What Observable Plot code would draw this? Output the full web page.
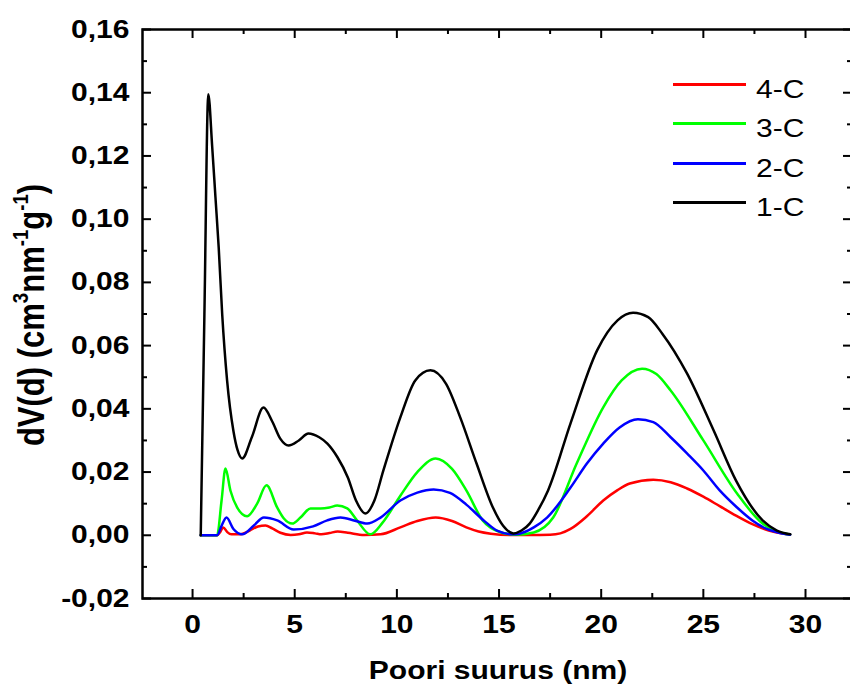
<!DOCTYPE html>
<html>
<head>
<meta charset="utf-8">
<script src="https://cdn.jsdelivr.net/npm/d3@7"></script>
<script src="https://cdn.jsdelivr.net/npm/@observablehq/plot@0.6"></script>
<style>
  html, body { margin: 0; padding: 0; background: #fff; overflow: hidden; }
  #wrap { position: relative; width: 850px; height: 686px; overflow: hidden; font-family: "Liberation Sans", Arial, sans-serif; color: #000; }
  #wrap svg { position: absolute; left: 0; top: 0; max-width: none !important; }
  .ylab { position: absolute; left: 31px; top: 315px; white-space: nowrap; font-weight: bold; font-size: 31px; line-height: 31px;
          transform: translate(-50%, -50%) scaleX(1.2) rotate(-90deg); }
  .ylab sup { font-size: 0.6em; line-height: 0; position: relative; top: -0.7em; vertical-align: baseline; }
  .xlab { position: absolute; left: 498px; top: 658px; white-space: nowrap; font-weight: bold; font-size: 25px; line-height: 25px;
          transform: translateX(-50%) scaleX(1.2); }
  .lg-line { position: absolute; left: 673px; width: 73px; height: 3px; }
  .lg-text { position: absolute; left: 756px; font-size: 25px; line-height: 25px; white-space: nowrap; transform-origin: 0 50%; transform: scaleX(1.2); }
</style>
</head>
<body>
<div id="wrap"></div>
<script>
// ---- data ----
const seriesNames = ["4-C", "3-C", "2-C", "1-C"];
const seriesColors = ["#ff0000", "#00ff00", "#0000ff", "#000000"];

const x1C = [0.4, 0.58, 0.77, 0.96, 1.12, 1.28, 1.45, 1.69, 2.0, 2.2, 2.43, 2.9, 3.47, 3.9, 4.3, 4.7, 5.2, 5.67, 6.2, 6.6, 7.1, 7.6, 8.0, 8.46, 8.9, 9.34, 10.17, 10.9, 11.64, 12.4, 13.1, 13.9, 14.7, 15.2, 15.7, 16.1, 16.5, 16.9, 17.4, 18.5, 19.8, 20.8, 21.56, 22.3, 23.0, 24.2, 25.5, 26.6, 27.9, 28.6, 29.25];
const y1C = [0, 0.07, 0.1395, 0.123, 0.107, 0.091, 0.070, 0.049, 0.033, 0.027, 0.0243, 0.031, 0.0404, 0.036, 0.0305, 0.0284, 0.030, 0.0322, 0.031, 0.029, 0.0246, 0.0183, 0.011, 0.0069, 0.011, 0.0205, 0.0373, 0.049, 0.0522, 0.048, 0.0373, 0.0227, 0.0088, 0.003, 0.0006, 0.0015, 0.0037, 0.0078, 0.0142, 0.0354, 0.0585, 0.068, 0.0704, 0.069, 0.0637, 0.0512, 0.0332, 0.0173, 0.0047, 0.0015, 0.0003];

const x2C = [0.4, 1.2, 1.42, 1.66, 2.0, 2.43, 3.0, 3.49, 4.14, 4.95, 5.9, 6.59, 7.24, 7.9, 8.55, 9.2, 10.17, 11.0, 11.8, 12.6, 13.4, 14.25, 14.9, 15.7, 16.0, 16.7, 17.35, 18.5, 19.3, 20.1, 20.9, 21.8, 22.55, 23.4, 24.2, 25.0, 25.8, 26.65, 27.4, 28.1, 28.7, 29.25];
const y2C = [0, 0, 0.003, 0.0056, 0.002, 0.0003, 0.0031, 0.0056, 0.0047, 0.0018, 0.0028, 0.0047, 0.0056, 0.0047, 0.0037, 0.0056, 0.011, 0.0135, 0.0145, 0.0134, 0.0097, 0.0047, 0.0015, 0.0003, 0.0005, 0.0025, 0.0056, 0.0151, 0.0227, 0.029, 0.0341, 0.0367, 0.0358, 0.031, 0.0259, 0.0205, 0.0142, 0.0088, 0.0047, 0.002, 0.0008, 0.0002];

const x3C = [0.4, 1.2, 1.42, 1.61, 1.86, 2.18, 2.67, 3.16, 3.62, 4.14, 4.47, 4.88, 5.28, 5.77, 6.26, 6.7, 7.08, 7.57, 8.05, 8.7, 9.3, 10.17, 11.0, 11.9, 12.7, 13.4, 14.2, 15.1, 15.8, 16.7, 17.65, 18.8, 20.1, 21.0, 22.0, 22.7, 23.4, 25.0, 26.65, 27.9, 28.6, 29.25];
const y3C = [0, 0, 0.011, 0.0211, 0.014, 0.0088, 0.006, 0.010, 0.0158, 0.0088, 0.0053, 0.0037, 0.0056, 0.0085, 0.0085, 0.0088, 0.0094, 0.0085, 0.0047, 0.0003, 0.004, 0.0125, 0.020, 0.0243, 0.021, 0.0142, 0.0047, 0.0009, 0.0002, 0.0009, 0.0056, 0.0227, 0.0405, 0.049, 0.0527, 0.051, 0.0458, 0.030, 0.0132, 0.0037, 0.0012, 0.0002];

const x4C = [0.4, 1.2, 1.35, 1.5, 1.7, 1.9, 2.3, 2.8, 3.2, 3.57, 3.9, 4.3, 4.8, 5.2, 5.6, 6.0, 6.3, 6.7, 7.1, 7.6, 8.4, 9.2, 10.17, 11.0, 11.9, 12.7, 13.4, 14.0, 14.6, 15.5, 16.5, 17.5, 18.0, 18.5, 19.3, 20.1, 20.8, 21.4, 22.55, 23.4, 24.2, 25.0, 25.8, 26.6, 27.4, 28.2, 28.8, 29.25];
const y4C = [0, 0, 0.001, 0.0025, 0.001, 0.0003, 0.0003, 0.0015, 0.0028, 0.0031, 0.0022, 0.0008, 0.0001, 0.0003, 0.0009, 0.0006, 0.0003, 0.0007, 0.0012, 0.0008, 0.0001, 0.0003, 0.0025, 0.0045, 0.0056, 0.0045, 0.0025, 0.0012, 0.0005, 0.0001, 0.0001, 0.0002, 0.0006, 0.002, 0.006, 0.011, 0.0143, 0.0164, 0.0176, 0.0168, 0.0148, 0.0122, 0.0092, 0.0062, 0.0035, 0.0015, 0.0006, 0.0002];

const xTicks = [0, 5, 10, 15, 20, 25, 30];
const xMinorTicks = [2.5, 7.5, 12.5, 17.5, 22.5, 27.5];
const yTicks = [-0.02, 0, 0.02, 0.04, 0.06, 0.08, 0.10, 0.12, 0.14, 0.16];
const yMinorTicks = [-0.01, 0.01, 0.03, 0.05, 0.07, 0.09, 0.11, 0.13, 0.15];

const xTitle = "Poori suurus (nm)";
const yTitleHTML = "dV(d) (cm<sup>3</sup>nm<sup>-1</sup>g<sup>-1</sup>)";

// ---- build table ----
const seriesX = {"4-C": x4C, "3-C": x3C, "2-C": x2C, "1-C": x1C};
const seriesY = {"4-C": y4C, "3-C": y3C, "2-C": y2C, "1-C": y1C};
const rows = [];
for (const name of seriesNames) {
  seriesX[name].forEach((xv, i) => rows.push({series: name, x: xv, y: seriesY[name][i]}));
}
const drawOrder = ["4-C", "3-C", "2-C", "1-C"];
const colorOf = Object.fromEntries(seriesNames.map((n, i) => [n, seriesColors[i]]));

// ---- layout ----
const W = 856, H = 686, mL = 142, mR = 4, mT = 29, mB = 88;
const plotW = W - mL - mR, plotH = H - mT - mB;
const major = 9, minor = 5;

const fmtY = d => d3.format(".2f")(d).replace(".", ",").replace("\u2212", "-");

const plot = Plot.plot({
  width: W, height: H,
  marginLeft: mL, marginRight: mR, marginTop: mT, marginBottom: mB,
  x: {domain: [-2.45, 32.3]},
  y: {domain: [-0.02, 0.16]},
  style: {fontFamily: "'Liberation Sans', Arial, sans-serif", fontSize: "25px", fontWeight: "bold", color: "#000", background: "transparent", overflow: "visible", maxWidth: "none"},
  marks: [
    ...drawOrder.map(name => Plot.line(rows.filter(r => r.series === name), {
      x: "x", y: "y", stroke: colorOf[name], strokeWidth: 2.5, curve: "monotone-x"
    })),
    Plot.frame({stroke: "#000", strokeWidth: 2.5}),
    Plot.tickX(xTicks, {x: d => d, insetTop: plotH - major, stroke: "#000", strokeWidth: 2}),
    Plot.tickX(xMinorTicks, {x: d => d, insetTop: plotH - minor, stroke: "#000", strokeWidth: 2}),
    Plot.tickX(xTicks, {x: d => d, insetBottom: plotH - major, stroke: "#000", strokeWidth: 2}),
    Plot.tickX(xMinorTicks, {x: d => d, insetBottom: plotH - minor, stroke: "#000", strokeWidth: 2}),
    Plot.tickY(yTicks, {y: d => d, insetRight: plotW - major, stroke: "#000", strokeWidth: 2}),
    Plot.tickY(yMinorTicks, {y: d => d, insetRight: plotW - minor, stroke: "#000", strokeWidth: 2}),
    Plot.tickY(yTicks, {y: d => d, insetLeft: plotW - major, stroke: "#000", strokeWidth: 2}),
    Plot.tickY(yMinorTicks, {y: d => d, insetLeft: plotW - minor, stroke: "#000", strokeWidth: 2}),
    Plot.axisX(xTicks, {anchor: "bottom", tickSize: 0, tickPadding: 17, tickFormat: d => String(d), label: null}),
    Plot.axisY(yTicks, {anchor: "left", tickSize: 0, tickPadding: 13, tickFormat: fmtY, label: null})
  ]
});

const wrap = document.getElementById("wrap");
wrap.appendChild(plot);
plot.style.maxWidth = "none";

plot.querySelectorAll('g[aria-label$="tick label"] text').forEach(t => {
  const w = t.getComputedTextLength();
  t.setAttribute("textLength", (w * 1.2).toFixed(2));
  t.setAttribute("lengthAdjust", "spacingAndGlyphs");
});

const yl = document.createElement("div");
yl.className = "ylab";
yl.innerHTML = yTitleHTML;
wrap.appendChild(yl);

const xl = document.createElement("div");
xl.className = "xlab";
xl.textContent = xTitle;
wrap.appendChild(xl);

const legendTop = 84, legendStep = 39.5;
seriesNames.forEach((name, i) => {
  const cy = legendTop + i * legendStep;
  const ln = document.createElement("div");
  ln.className = "lg-line";
  ln.style.top = (cy - 1.5) + "px";
  ln.style.background = colorOf[name];
  wrap.appendChild(ln);
  const tx = document.createElement("div");
  tx.className = "lg-text";
  tx.style.top = (cy + 5 - 12.2) + "px";
  tx.textContent = name;
  wrap.appendChild(tx);
});
</script>
</body>
</html>
